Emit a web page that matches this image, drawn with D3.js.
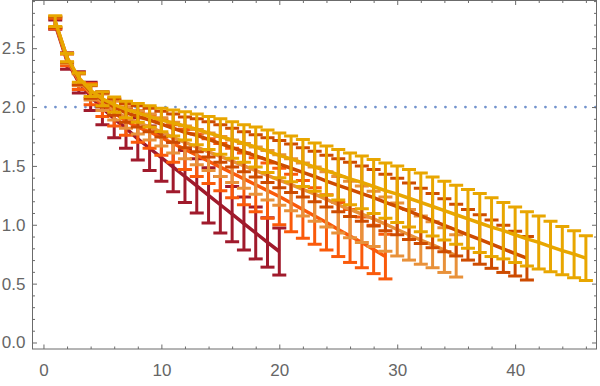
<!DOCTYPE html>
<html><head><meta charset="utf-8">
<script src="https://cdn.jsdelivr.net/npm/d3@7"></script>
<style>html,body{margin:0;padding:0;background:#fff;}svg{display:block;}</style>
</head><body>
<svg id="chart" width="600" height="386"></svg>
<script>
// ---- data ----
const s1Values = [2.70,2.39,2.21,2.09,1.99,1.90,1.82,1.73,1.65,1.57,1.49,1.41,1.33,1.25,1.17,1.09,1.01,0.93,0.85,0.773];
const s1Errors = [0.04,0.07,0.09,0.12,0.14,0.16,0.17,0.18,0.19,0.20,0.21,0.22,0.23,0.235,0.24,0.235,0.225,0.22,0.21,0.20];
const s2Values = [2.71,2.40,2.22,2.11,2.02,1.95,1.88,1.83,1.79,1.74,1.69,1.64,1.59,1.54,1.49,1.44,1.39,1.34,1.29,1.24,1.185,1.13,1.075,1.02,0.96,0.905,0.85,0.79,0.73];
const s2Errors = [0.045,0.05,0.07,0.09,0.10,0.11,0.12,0.13,0.14,0.15,0.16,0.17,0.18,0.19,0.20,0.21,0.22,0.23,0.235,0.24,0.245,0.245,0.24,0.235,0.23,0.225,0.215,0.205,0.19];
const s3Values = [2.72,2.41,2.23,2.12,2.04,1.97,1.91,1.87,1.83,1.79,1.74,1.70,1.66,1.62,1.58,1.54,1.50,1.46,1.42,1.38,1.34,1.30,1.26,1.215,1.17,1.13,1.09,1.05,1.005,0.96,0.915,0.87,0.83,0.785,0.736];
const s3Errors = [0.045,0.04,0.05,0.06,0.07,0.08,0.09,0.10,0.11,0.12,0.13,0.14,0.15,0.16,0.17,0.18,0.19,0.20,0.21,0.215,0.22,0.225,0.23,0.235,0.24,0.24,0.24,0.235,0.23,0.225,0.215,0.205,0.195,0.19,0.18];
const s4Values = [2.72,2.42,2.24,2.13,2.06,2.00,1.95,1.92,1.89,1.855,1.82,1.785,1.76,1.725,1.69,1.655,1.62,1.585,1.55,1.515,1.48,1.445,1.41,1.37,1.335,1.30,1.265,1.23,1.19,1.155,1.115,1.075,1.035,0.995,0.955,0.915,0.875,0.835,0.795,0.755,0.716];
const s4Errors = [0.045,0.04,0.05,0.055,0.06,0.07,0.08,0.09,0.10,0.11,0.12,0.13,0.14,0.15,0.16,0.165,0.17,0.18,0.19,0.20,0.205,0.21,0.215,0.22,0.225,0.23,0.235,0.24,0.24,0.24,0.24,0.235,0.23,0.225,0.22,0.215,0.21,0.205,0.20,0.19,0.185];
const s5Values = [2.73,2.42,2.25,2.14,2.07,2.02,1.98,1.95,1.92,1.89,1.865,1.84,1.81,1.78,1.75,1.72,1.69,1.66,1.625,1.59,1.56,1.525,1.49,1.46,1.425,1.39,1.36,1.325,1.29,1.26,1.225,1.19,1.155,1.12,1.085,1.05,1.015,0.98,0.95,0.915,0.88,0.85,0.815,0.78,0.75,0.716];
const s5Errors = [0.045,0.035,0.04,0.05,0.06,0.065,0.07,0.08,0.09,0.10,0.11,0.12,0.13,0.14,0.15,0.155,0.16,0.17,0.18,0.19,0.195,0.20,0.205,0.21,0.215,0.22,0.225,0.23,0.235,0.24,0.245,0.25,0.25,0.25,0.25,0.25,0.25,0.25,0.24,0.235,0.23,0.225,0.215,0.205,0.20,0.19];
const seriesColors = ["#A01A2C","#FA5A0A","#E8913A","#CD4B00","#E8A600"];
const referenceLevel = 2.0;
const xMajorTicks = [0,10,20,30,40];
const yMajorTicks = [0,0.5,1.0,1.5,2.0,2.5];

const series = [
  {values:s1Values, errors:s1Errors, color:seriesColors[0]},
  {values:s2Values, errors:s2Errors, color:seriesColors[1]},
  {values:s3Values, errors:s3Errors, color:seriesColors[2]},
  {values:s4Values, errors:s4Errors, color:seriesColors[3]},
  {values:s5Values, errors:s5Errors, color:seriesColors[4]}
];

// ---- layout ----
const L = 32.5, R = 596.5, T = 0.5, B = 349;
const x = d3.scaleLinear().domain([-0.93, 46.9]).range([L, R]);
const y = d3.scaleLinear().domain([-0.0553, 2.905]).range([B, T]);

const svg = d3.select("#chart");
const frameColor = "#6b6b6b";
const labelFont = "'Liberation Sans', Arial, sans-serif";

svg.append("defs").append("clipPath").attr("id","clip")
  .append("rect").attr("x",L).attr("y",T).attr("width",R-L).attr("height",B-T);
const plot = svg.append("g").attr("clip-path","url(#clip)");

// reference dotted line
plot.append("line")
  .attr("x1", x(0)+2).attr("x2", R)
  .attr("y1", y(referenceLevel)).attr("y2", y(referenceLevel))
  .attr("stroke","#7393CC").attr("stroke-width",2.8)
  .attr("stroke-linecap","round").attr("stroke-dasharray","0 10");

const capHalf = 7;
const line = d3.line().x(d=>x(d.x)).y(d=>y(d.v));

series.forEach(s => {
  const pts = s.values.map((v,i)=>({x:i+1, v:v, e:s.errors[i]}));
  const g = plot.append("g");
  const bars = g.selectAll("g.bar").data(pts).enter().append("g")
    .attr("stroke", s.color).attr("stroke-width", 3);
  bars.append("line").attr("x1",d=>x(d.x)).attr("x2",d=>x(d.x))
    .attr("y1",d=>y(d.v-d.e)).attr("y2",d=>y(d.v+d.e));
  bars.append("line").attr("x1",d=>x(d.x)-capHalf).attr("x2",d=>x(d.x)+capHalf)
    .attr("y1",d=>y(d.v+d.e)).attr("y2",d=>y(d.v+d.e));
  bars.append("line").attr("x1",d=>x(d.x)-capHalf).attr("x2",d=>x(d.x)+capHalf)
    .attr("y1",d=>y(d.v-d.e)).attr("y2",d=>y(d.v-d.e));
  g.append("path").datum(pts).attr("d", line)
    .attr("fill","none").attr("stroke", s.color).attr("stroke-width",3.5)
    .attr("stroke-linejoin","round");
});

// ---- axes ----
const xMinor = d3.range(0, 47, 2).filter(v=>!xMajorTicks.includes(v));
const yMinor = d3.range(0, 30).map(i=>+(i*0.1).toFixed(1)).filter(v=>!yMajorTicks.some(m=>Math.abs(m-v)<1e-6));

function styleAxis(g){
  g.select(".domain").remove();
  g.selectAll(".tick line").attr("stroke",frameColor).attr("stroke-width",1);
  g.selectAll(".tick text").attr("fill","#666").style("font-family",labelFont).style("font-size","17px");
}
svg.append("g").attr("transform",`translate(0,${B})`)
  .call(d3.axisBottom(x).tickValues(xMajorTicks).tickSize(-4.5).tickPadding(15).tickFormat(d3.format("d"))).call(styleAxis);
svg.append("g").attr("transform",`translate(0,${B})`)
  .call(d3.axisBottom(x).tickValues(xMinor).tickSize(-2.5).tickFormat("")).call(styleAxis);
svg.append("g").attr("transform",`translate(0,${T})`)
  .call(d3.axisTop(x).tickValues(xMajorTicks).tickSize(-4.5).tickFormat("")).call(styleAxis);
svg.append("g").attr("transform",`translate(0,${T})`)
  .call(d3.axisTop(x).tickValues(xMinor).tickSize(-2.5).tickFormat("")).call(styleAxis);
svg.append("g").attr("transform",`translate(${L},0)`)
  .call(d3.axisLeft(y).tickValues(yMajorTicks).tickSize(-4.5).tickPadding(7).tickFormat(d3.format(".1f"))).call(styleAxis);
svg.append("g").attr("transform",`translate(${L},0)`)
  .call(d3.axisLeft(y).tickValues(yMinor).tickSize(-2.5).tickFormat("")).call(styleAxis);
svg.append("g").attr("transform",`translate(${R},0)`)
  .call(d3.axisRight(y).tickValues(yMajorTicks).tickSize(-4.5).tickFormat("")).call(styleAxis);
svg.append("g").attr("transform",`translate(${R},0)`)
  .call(d3.axisRight(y).tickValues(yMinor).tickSize(-2.5).tickFormat("")).call(styleAxis);

svg.append("rect").attr("x",L).attr("y",T).attr("width",R-L).attr("height",B-T)
  .attr("fill","none").attr("stroke",frameColor).attr("stroke-width",1);
</script>
</body></html>
